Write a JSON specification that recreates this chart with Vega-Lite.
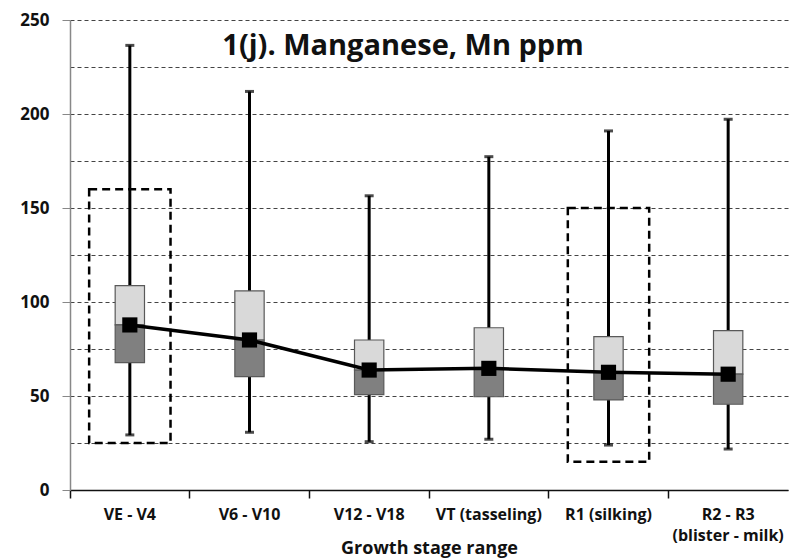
{
  "$schema": "https://vega.github.io/schema/vega-lite/v6.json",
  "autosize": {"type": "none"},
  "width": 718,
  "height": 470,
  "padding": {"left": 70, "top": 20, "right": 2, "bottom": 68},
  "background": "white",
  "config": {"view": {"stroke": null}, "font": "Open Sans"},
  "title": {
    "text": "1(j). Manganese, Mn ppm",
    "font": "Open Sans",
    "fontSize": 29,
    "fontWeight": "bold",
    "color": "#111",
    "anchor": "middle",
    "offset": -50,
    "dx": -26
  },
  "datasets": {
    "boxes": [
      {"stage": "VE - V4", "min": 29.3, "q1": 67.7, "med": 87.8, "q3": 108.7, "max": 236.5},
      {"stage": "V6 - V10", "min": 30.7, "q1": 60.3, "med": 79.8, "q3": 105.9, "max": 212},
      {"stage": "V12 - V18", "min": 25.7, "q1": 50.7, "med": 63.8, "q3": 79.8, "max": 156.5},
      {"stage": "VT (tasseling)", "min": 27, "q1": 49.6, "med": 64.7, "q3": 86.3, "max": 177.3},
      {"stage": "R1 (silking)", "min": 23.9, "q1": 47.9, "med": 62.6, "q3": 81.6, "max": 191},
      {"stage": "R2 - R3\n(blister - milk)", "min": 21.8, "q1": 45.6, "med": 61.6, "q3": 84.8, "max": 197.2}
    ],
    "frames": [
      {"stage": "VE - V4", "lo": 25, "hi": 160},
      {"stage": "R1 (silking)", "lo": 15, "hi": 150}
    ]
  },
  "encoding": {
    "x": {
      "field": "stage",
      "type": "nominal",
      "sort": ["VE - V4", "V6 - V10", "V12 - V18", "VT (tasseling)", "R1 (silking)", "R2 - R3\n(blister - milk)"],
      "scale": {"paddingInner": 0, "paddingOuter": 0},
      "axis": {
        "title": "Growth stage range",
        "titleFont": "Open Sans",
        "titleFontSize": 18,
        "titleFontWeight": "bold",
        "titleColor": "#111",
        "titlePadding": -4,
        "labelAngle": 0,
        "labelFont": "Open Sans",
        "labelFontSize": 16,
        "labelFontWeight": "bold",
        "labelColor": "#111",
        "labelPadding": 8,
        "labelExpr": "split(datum.label, '\\n')",
        "labelLineHeight": 21,
        "bandPosition": 0,
        "tickSize": 8,
        "tickColor": "#111",
        "tickWidth": 1.5,
        "domainColor": "#111",
        "domainWidth": 1.5,
        "grid": false
      }
    }
  },
  "layer": [
    {
      "data": {"name": "boxes"},
      "mark": {"type": "rule", "color": "#000", "strokeWidth": 3},
      "encoding": {
        "y": {
          "field": "min",
          "type": "quantitative",
          "scale": {"domain": [0, 250], "nice": false},
          "axis": {
            "title": null,
            "values": [0, 25, 50, 75, 100, 125, 150, 175, 200, 225, 250],
            "labelExpr": "datum.value % 50 === 0 ? datum.label : ''",
            "labelFont": "Open Sans",
            "labelFontSize": 17,
            "labelFontWeight": "bold",
            "labelColor": "#111",
            "labelPadding": 13,
            "tickSize": 8,
            "tickColor": "#888",
            "tickOpacity": {"condition": {"test": "datum.value % 50 === 0", "value": 1}, "value": 0},
            "domainColor": "#888",
            "domainWidth": 1.5,
            "grid": true,
            "gridColor": "#444",
            "gridDash": [4, 3],
            "gridWidth": 1
          }
        },
        "y2": {"field": "max"}
      }
    },
    {
      "data": {"name": "boxes"},
      "mark": {"type": "tick", "color": "#000", "thickness": 3, "size": 9, "orient": "horizontal"},
      "encoding": {"y": {"field": "min", "type": "quantitative"}}
    },
    {
      "data": {"name": "boxes"},
      "mark": {"type": "tick", "color": "#000", "thickness": 3, "size": 9, "orient": "horizontal"},
      "encoding": {"y": {"field": "max", "type": "quantitative"}}
    },
    {
      "data": {"name": "boxes"},
      "mark": {"type": "bar", "fill": "#d9d9d9", "stroke": "#595959", "strokeWidth": 1.2, "width": {"band": 0.245}},
      "encoding": {"y": {"field": "med", "type": "quantitative"}, "y2": {"field": "q3"}}
    },
    {
      "data": {"name": "boxes"},
      "mark": {"type": "bar", "fill": "#808080", "stroke": "#595959", "strokeWidth": 1.2, "width": {"band": 0.245}},
      "encoding": {"y": {"field": "q1", "type": "quantitative"}, "y2": {"field": "med"}}
    },
    {
      "data": {"name": "frames"},
      "mark": {"type": "bar", "fill": null, "fillOpacity": 0, "stroke": "#000", "strokeWidth": 2.5, "strokeDash": [8, 5], "width": {"band": 0.68}},
      "encoding": {"y": {"field": "lo", "type": "quantitative"}, "y2": {"field": "hi"}}
    },
    {
      "data": {"name": "boxes"},
      "mark": {"type": "line", "color": "#000", "strokeWidth": 3.5},
      "encoding": {"y": {"field": "med", "type": "quantitative"}}
    },
    {
      "data": {"name": "boxes"},
      "mark": {"type": "point", "shape": "square", "filled": true, "color": "#000", "opacity": 1, "size": 230},
      "encoding": {"y": {"field": "med", "type": "quantitative"}}
    }
  ]
}
